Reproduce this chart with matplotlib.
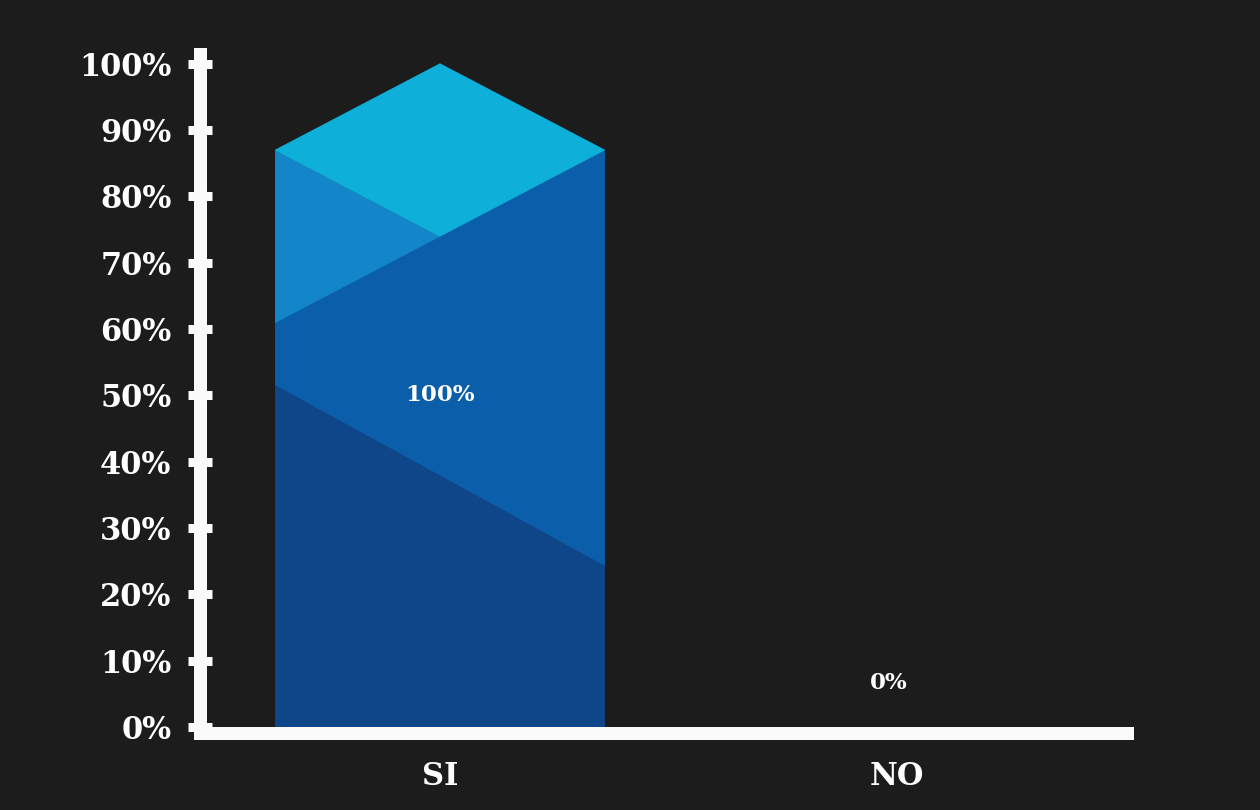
import matplotlib.pyplot as plt

# data
categories = ['SI', 'NO']
values = [100, 0]
yticks = list(range(0, 101, 10))

bg = '#1c1c1c'
face_cols = {'bottom': '#0f4689', 'middle': '#0b5eaa', 'left': '#1286c8', 'top': '#0eafd9'}
font = 'DejaVu Serif'

fig = plt.figure(figsize=(12.6, 8.1), dpi=100, facecolor=bg)
ax = fig.add_axes([200 / 1260, 77 / 810, 926.5 / 1260, 678.5 / 810])
ax.set_facecolor(bg)

width = 0.72
x = list(range(len(categories)))

# each bar is drawn as a faceted "crystal" column split into four shades
for xc, v in zip(x, values):
    x0, x1 = xc - width / 2, xc + width / 2
    facets = [
        ([x0, x1, x1, x0], [0, 0, 0.244 * v, 0.516 * v], face_cols['bottom']),
        ([x0, x1, x1, x0], [0.516 * v, 0.244 * v, 0.87 * v, 0.61 * v], face_cols['middle']),
        ([x0, xc, x0], [0.61 * v, 0.74 * v, 0.87 * v], face_cols['left']),
        ([x0, xc, x1, xc], [0.87 * v, v, 0.87 * v, 0.74 * v], face_cols['top']),
    ]
    for fx, fy, col in facets:
        if v > 0:
            ax.fill(fx, fy, facecolor=col, edgecolor=col, lw=0.6, joinstyle='miter')
    if v > 0:
        ax.text(xc, v / 2, f'{v}%', ha='center', va='center', color='white',
                fontsize=16.5, fontweight='bold', family=font)
    else:
        ax.annotate(f'{v}%', (xc, v), xytext=(-8, 44), textcoords='offset pixels',
                    ha='center', va='center', color='white',
                    fontsize=16.5, fontweight='bold', family=font)

ax.set_xlim(-0.525, 1.502)
ax.set_ylim(-0.905, 101.4)

ax.set_xticks(x)
ax.set_xticklabels(categories)
ax.set_yticks(yticks)
ax.set_yticklabels([f'{t}%' for t in yticks])

for s in ['top', 'right']:
    ax.spines[s].set_visible(False)
for s in ['left', 'bottom']:
    ax.spines[s].set_color('#fafafa')
    ax.spines[s].set_linewidth(13 * 72 / 100)
    ax.spines[s].set_zorder(3)

ax.tick_params(axis='y', direction='inout', length=17, width=6.5, color='#fafafa',
               pad=12, labelcolor='white', labelsize=22)
ax.tick_params(axis='x', length=0, pad=20, labelcolor='white', labelsize=22)
for lab in ax.get_xticklabels() + ax.get_yticklabels():
    lab.set_fontfamily(font)
    lab.set_fontweight('bold')

fig.savefig('out.png', dpi=100, facecolor=bg)
